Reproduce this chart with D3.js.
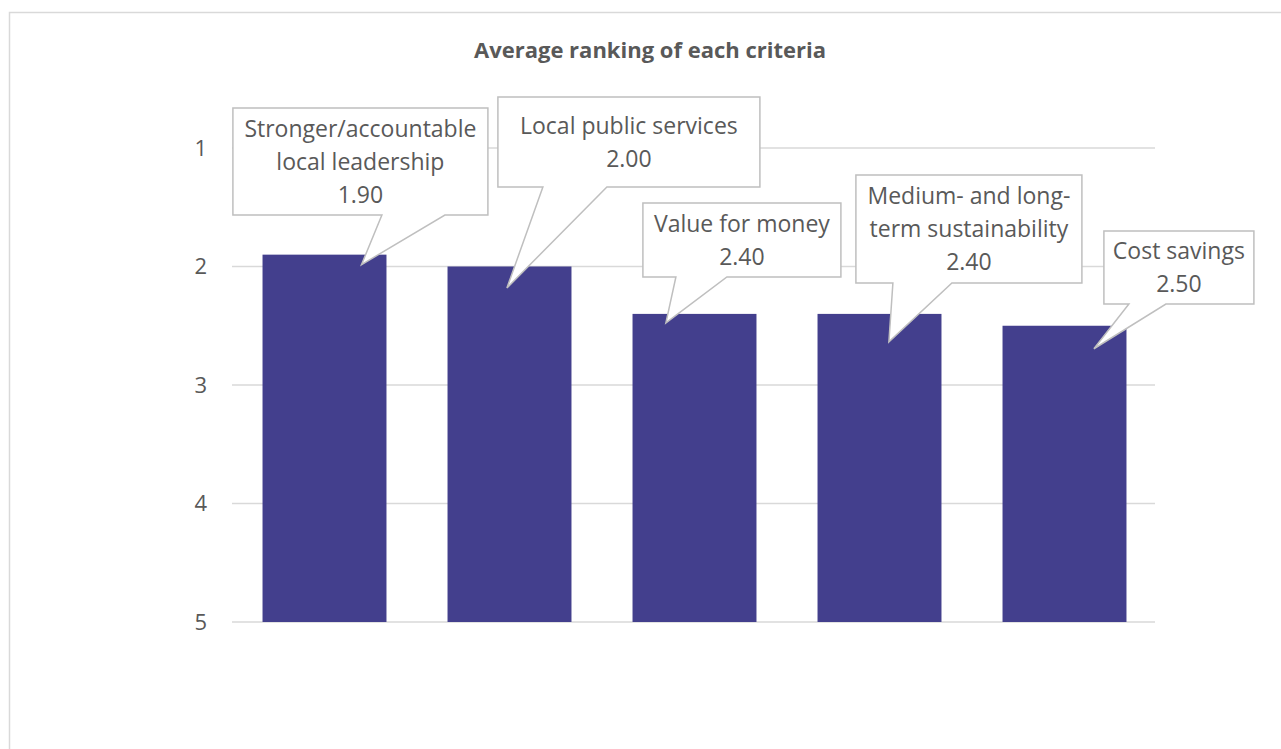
<!DOCTYPE html>
<html>
<head>
<meta charset="utf-8">
<script src="https://cdn.jsdelivr.net/npm/d3@7"></script>
<style>
  html, body { margin: 0; padding: 0; background: #fff; }
  svg { display: block; font-family: "Open Sans", Lato, sans-serif; }
</style>
</head>
<body>
<script>
// Chart data
const categories = [
  "Stronger/accountable local leadership",
  "Local public services",
  "Value for money",
  "Medium- and long-term sustainability",
  "Cost savings"
];
const callTexts = [
  ["Stronger/accountable", "local leadership"],
  ["Local public services"],
  ["Value for money"],
  ["Medium- and long-", "term sustainability"],
  ["Cost savings"]
];
const averageRank = [1.90, 2.00, 2.40, 2.40, 2.50];
const yTicks = [1, 2, 3, 4, 5];
const title = "Average ranking of each criteria";

// Callout placement, relative to the top-centre of each bar
const callLayout = [
  { dx: -91.6, dy: -146.6, w: 255, h: 107, b0: 149, b1: 212, tx: 37,   ty: 10 },
  { dx: -11.6, dy: -169.5, w: 262, h: 90,  b0: 45,  b1: 109, tx: -2.6, ty: 21.5 },
  { dx: -51.6, dy: -110.9, w: 198, h: 74,  b0: 33,  b1: 84,  tx: -28.6, ty: 9 },
  { dx: -23.6, dy: -138.9, w: 226, h: 108, b0: 37,  b1: 96,  tx: 9.4,  ty: 28 },
  { dx: 39.4,  dy: -94.75, w: 150, h: 73,  b0: 25,  b1: 62,  tx: 29.4, ty: 23 }
];

const W = 1281, H = 749;
const svg = d3.select("body").append("svg").attr("width", W).attr("height", H);

// Outer chart border
svg.append("rect")
  .attr("x", 9.5).attr("y", 12.5)
  .attr("width", W + 10).attr("height", H + 10)
  .attr("fill", "#fff").attr("stroke", "#d9d9d9").attr("stroke-width", 1.5);

const plot = { left: 232, right: 1157, top: 148, bottom: 622 };

const x = d3.scaleBand()
  .domain(categories)
  .range([plot.left, plot.right])
  .paddingInner(0.33)
  .paddingOuter(0.165);

const y = d3.scaleLinear().domain([1, 5]).range([plot.top, plot.bottom]);

// Title
svg.append("text")
  .attr("x", 650).attr("y", 58)
  .attr("text-anchor", "middle")
  .attr("font-size", 22).attr("font-weight", "bold")
  .attr("fill", "#595959")
  .text(title);

// Gridlines
svg.append("g").selectAll("line").data(yTicks).join("line")
  .attr("x1", plot.left).attr("x2", plot.right - 2)
  .attr("y1", d => y(d)).attr("y2", d => y(d))
  .attr("stroke", "#d9d9d9").attr("stroke-width", 1.5);

// Y axis tick labels
const yAxis = d3.axisLeft(y).tickValues(yTicks).tickSize(0).tickPadding(0).tickFormat(d3.format("d"));
const gy = svg.append("g").attr("transform", `translate(${207},0)`).call(yAxis);
gy.select(".domain").remove();
gy.selectAll("text")
  .attr("font-size", 22).attr("font-family", "'Open Sans', Lato, sans-serif")
  .attr("fill", "#595959");

// Bars (axis reversed: bars rise from rank 5 up to the value)
svg.append("g").selectAll("rect").data(averageRank).join("rect")
  .attr("x", (d, i) => x(categories[i]))
  .attr("width", x.bandwidth())
  .attr("y", d => y(d))
  .attr("height", d => y(5) - y(d))
  .attr("fill", "#433f8d");

// Callout labels
const lineH = 33;
const calls = svg.append("g");
averageRank.forEach((v, i) => {
  const L = callLayout[i];
  const ax = x(categories[i]) + x.bandwidth() / 2;
  const ay = y(v);
  const bx = ax + L.dx, by = ay + L.dy;
  const tipX = ax + L.tx, tipY = ay + L.ty;
  const path = [
    [bx, by], [bx + L.w, by], [bx + L.w, by + L.h],
    [bx + L.b1, by + L.h], [tipX, tipY], [bx + L.b0, by + L.h],
    [bx, by + L.h]
  ];
  calls.append("path")
    .attr("d", d3.line()(path) + "Z")
    .attr("fill", "#fff").attr("stroke", "#bfbfbf").attr("stroke-width", 1.5);
  const lines = callTexts[i].concat([v.toFixed(2)]);
  const cx = bx + L.w / 2, cy = by + L.h / 2;
  const first = cy - (lines.length - 1) * lineH / 2;
  const t = calls.append("text")
    .attr("text-anchor", "middle")
    .attr("font-size", 23)
    .attr("fill", "#595959");
  lines.forEach((s, k) => {
    t.append("tspan").attr("x", cx).attr("y", first + k * lineH + 8).text(s);
  });
});
</script>
</body>
</html>
